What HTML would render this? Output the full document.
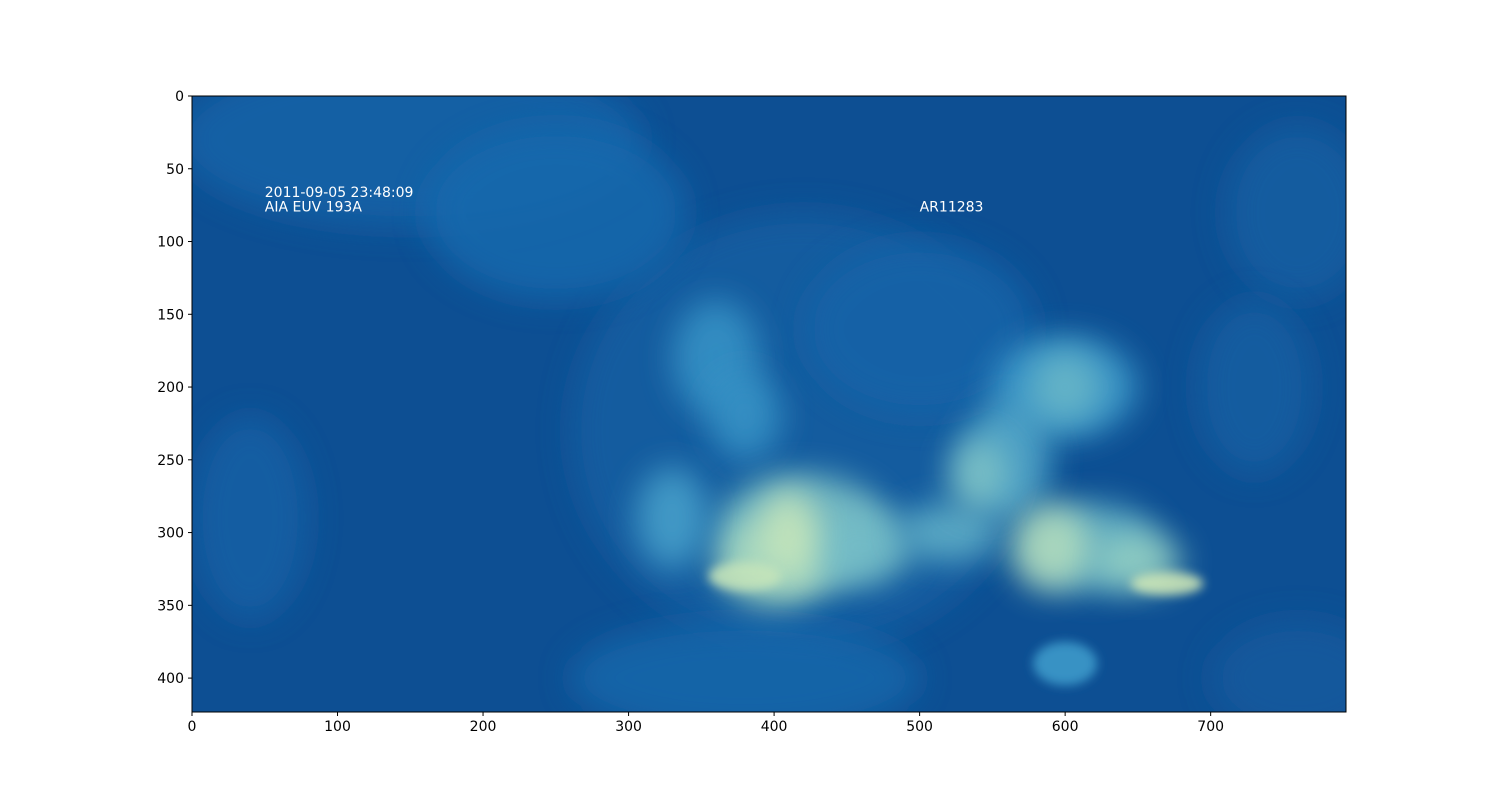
<!DOCTYPE html>
<html><head><meta charset="utf-8">
<style>
html,body{margin:0;padding:0;background:#fff;}
svg{display:block;font-family:"DejaVu Sans","Liberation Sans",sans-serif;}
</style></head>
<body>
<svg id="chart" width="1500" height="800">
<defs>
<clipPath id="clip"><rect x="192" y="96" width="1154" height="616"/></clipPath>
<filter id="blur" x="-50%" y="-50%" width="200%" height="200%"><feGaussianBlur stdDeviation="16"/></filter>
<filter id="blur2" x="-50%" y="-50%" width="200%" height="200%"><feGaussianBlur stdDeviation="5"/></filter>
</defs>
<g id="img" clip-path="url(#clip)"></g>
<rect x="192" y="96" width="1154" height="616" fill="none" stroke="#000" stroke-width="1"/>
<g id="axes"></g>
</svg>
<script>
const xTicks=[0,100,200,300,400,500,600,700];
const yTicks=[0,50,100,150,200,250,300,350,400];
// blobs: center x, center y (data), radius x, radius y, brightness 0..1 (drawn in order)
const blobX=[420,150,250,500,380,40,760,730,760,360,380,600,560,420,400,460,330,620,600,590,520,650,670,540,600,410,380];
const blobY=[230,30,80,160,400,290,80,200,400,180,220,200,250,300,320,310,290,310,390,310,300,320,335,260,200,300,330];
const blobRX=[160,160,90,80,120,40,50,40,60,30,25,50,30,60,40,35,25,45,22,28,35,30,25,20,25,20,25];
const blobRY=[150,60,60,60,40,70,60,60,40,40,30,35,40,40,30,25,35,30,15,30,20,20,8,25,25,30,10];
const blobV=[0.22,0.28,0.32,0.28,0.30,0.25,0.22,0.22,0.18,0.55,0.55,0.60,0.65,0.75,0.85,0.72,0.62,0.70,0.60,0.88,0.68,0.80,0.95,0.75,0.70,0.92,0.92];

const X0=192,Y0=96,S=1154/793;
const sx=v=>X0+v*S, sy=v=>Y0+v*S;
function color(v){
  const stops=[[0,[10,70,138]],[0.35,[25,108,176]],[0.6,[65,158,205]],[0.8,[150,210,195]],[1,[230,242,180]]];
  for(let i=1;i<stops.length;i++){if(v<=stops[i][0]){const a=stops[i-1],b=stops[i],t=(v-a[0])/(b[0]-a[0]);
    return 'rgb('+a[1].map((c,k)=>Math.round(c+(b[1][k]-c)*t)).join(',')+')';}}
  return 'rgb(230,242,180)';
}
const NS='http://www.w3.org/2000/svg';
const img=document.getElementById('img');
const bg=document.createElementNS(NS,'rect');
bg.setAttribute('x',192);bg.setAttribute('y',96);bg.setAttribute('width',1154);bg.setAttribute('height',616);bg.setAttribute('fill',color(0.08));


img.appendChild(bg);
blobX.forEach((bx,i)=>{
  const e=document.createElementNS(NS,'ellipse');
  e.setAttribute('cx',sx(bx));e.setAttribute('cy',sy(blobY[i]));
  e.setAttribute('rx',blobRX[i]*S);e.setAttribute('ry',blobRY[i]*S);
  e.setAttribute('fill',color(blobV[i]));
  e.setAttribute('opacity',0.85);
  e.setAttribute('filter',blobRY[i]<20?'url(#blur2)':'url(#blur)');
  
  
  img.appendChild(e);
});
const ax=document.getElementById('axes');
function txt(x,y,s,anchor,fill,name){const t=document.createElementNS(NS,'text');t.setAttribute('x',x);t.setAttribute('y',y);t.setAttribute('font-size',14);t.setAttribute('text-anchor',anchor);t.setAttribute('fill',fill);t.textContent=s;


ax.appendChild(t);return t;}
function line(x1,y1,x2,y2){const l=document.createElementNS(NS,'line');l.setAttribute('x1',x1);l.setAttribute('y1',y1);l.setAttribute('x2',x2);l.setAttribute('y2',y2);l.setAttribute('stroke','#000');


ax.appendChild(l);}
xTicks.forEach(v=>{const x=sx(v);line(x,712,x,716);txt(x,731,String(v),'middle','#000','x-tick-label');});
yTicks.forEach(v=>{const y=sy(v);line(188,y,192,y);txt(184,y+5,String(v),'end','#000','y-tick-label');});
txt(sx(50),sy(66)+5,'2011-09-05 23:48:09','start','#fff','timestamp-annotation');
txt(sx(50),sy(76)+5,'AIA EUV 193A','start','#fff','instrument-annotation');
txt(sx(500),sy(76)+5,'AR11283','start','#fff','region-annotation');
</script>
</body></html>
